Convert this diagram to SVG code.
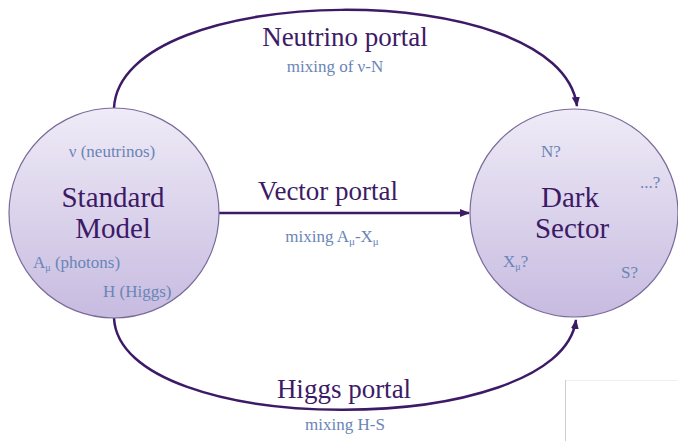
<svg xmlns="http://www.w3.org/2000/svg" width="678" height="441" viewBox="0 0 678 441">
<style>
.title{font-family:"Liberation Serif","DejaVu Serif",serif;fill:#3d1a66;text-anchor:middle}
.big{font-size:29px}
.portal{font-size:27px}
.sub{font-family:"Liberation Serif","DejaVu Serif",serif;fill:#6a85b6;font-size:17px}
.mid{text-anchor:middle}
.conn{fill:none;stroke:#3d1a66;stroke-width:2.5}
.node{stroke:#7a6a9a;stroke-width:1.2;fill:url(#g)}
</style>
<defs>
<linearGradient id="g" x1="0" y1="0" x2="0" y2="1">
<stop offset="0" stop-color="#efebf7"/>
<stop offset="1" stop-color="#c7bbe0"/>
</linearGradient>
<marker id="ah" markerWidth="10" markerHeight="10" refX="9" refY="5" orient="auto" markerUnits="userSpaceOnUse">
<path d="M0,1 L10,5 L0,9 z" fill="#3d1a66"/>
</marker>
</defs>
<rect width="678" height="441" fill="#ffffff"/>
<g id="frame" stroke-width="1" fill="none">
<line x1="565.5" y1="380" x2="565.5" y2="441" stroke="#cccccc"/>
<line x1="566" y1="380.5" x2="678" y2="380.5" stroke="#f0f0f0"/>
</g>
<g id="connectors">
<path class="conn" d="M114,108 C120,-20 560,-25 577,106" marker-end="url(#ah)"/>
<path class="conn" d="M218,213 L469,213" marker-end="url(#ah)"/>
<path class="conn" d="M114,318 C120,440 560,440 576,320" marker-end="url(#ah)"/>
</g>
<g id="standard-model">
<circle class="node" cx="114" cy="213" r="105"/>
<text class="title big" x="113" y="207">Standard</text>
<text class="title big" x="113" y="238">Model</text>
<text class="sub mid" x="112" y="157">ν (neutrinos)</text>
<text class="sub" x="33" y="268">A<tspan font-size="10" dy="3">μ</tspan><tspan dy="-3"> (photons)</tspan></text>
<text class="sub" x="103" y="297">H (Higgs)</text>
</g>
<g id="dark-sector">
<circle class="node" cx="574" cy="213" r="104"/>
<text class="title big" x="570" y="207">Dark</text>
<text class="title big" x="572" y="238">Sector</text>
<text class="sub" x="541" y="157">N?</text>
<text class="sub" x="640" y="188">...?</text>
<text class="sub" x="503" y="267">X<tspan font-size="10" dy="3">μ</tspan><tspan dy="-3">?</tspan></text>
<text class="sub" x="621" y="278">S?</text>
</g>
<g id="labels">
<text class="title portal" x="345" y="46">Neutrino portal</text>
<text class="sub mid" x="335" y="72" font-size="16">mixing of ν-N</text>
<text class="title portal" x="328" y="200">Vector portal</text>
<text class="sub mid" x="332" y="242" font-size="18">mixing A<tspan font-size="11" dy="3">μ</tspan><tspan dy="-3">-X</tspan><tspan font-size="11" dy="3">μ</tspan></text>
<text class="title portal" x="344" y="398">Higgs portal</text>
<text class="sub mid" x="345" y="430" font-size="20">mixing H-S</text>
</g>
</svg>
